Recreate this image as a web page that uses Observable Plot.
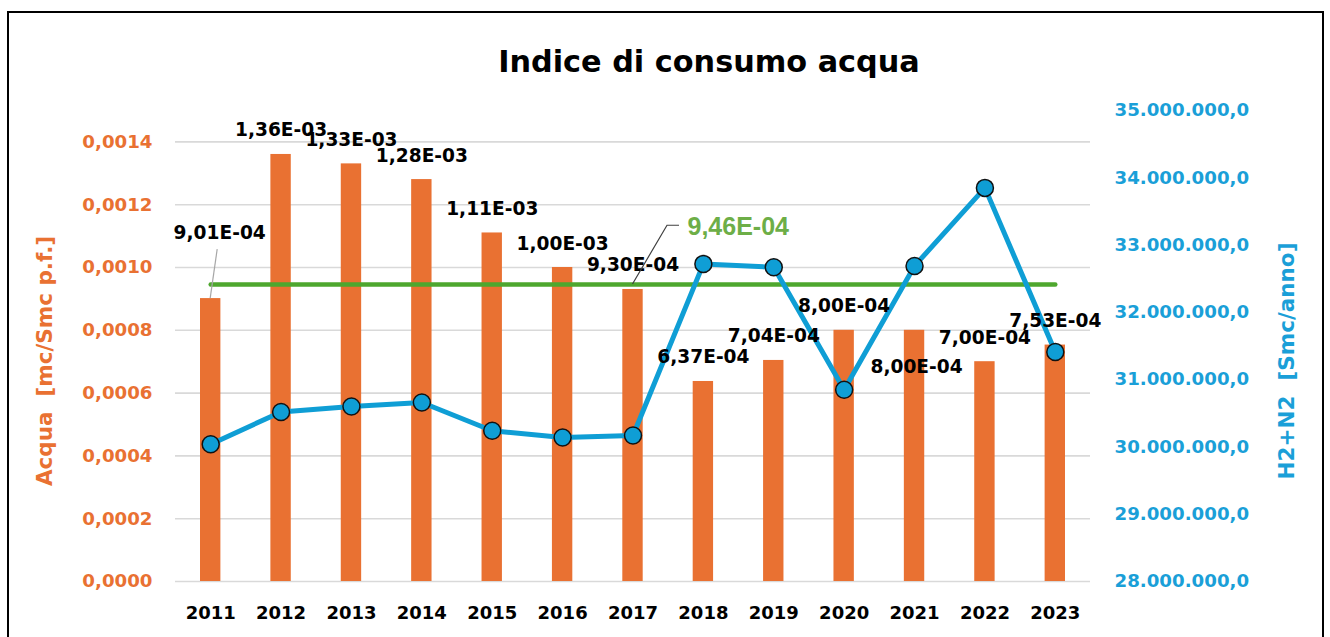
<!DOCTYPE html>
<html>
<head>
<meta charset="utf-8">
<script src="https://cdn.jsdelivr.net/npm/d3@7"></script>
<script src="https://cdn.jsdelivr.net/npm/@observablehq/plot@0.6"></script>
<style>
  html, body { margin: 0; padding: 0; background: #fff; }
  body { width: 1330px; height: 637px; position: relative; overflow: hidden; }
  #chart { position: absolute; left: 0; top: 0; }
  #chart svg text { white-space: pre; }
  #frame { position: absolute; left: 7px; top: 11px; width: 1317px; height: 700px;
           border: 2px solid #000; box-sizing: border-box; pointer-events: none; }
  #title { position: absolute; left: 709px; top: 47px; transform: translateX(-50%);
           font: bold 30.3px/30.3px "DejaVu Sans", sans-serif; white-space: nowrap; color: #000; }
</style>
</head>
<body>
<div id="chart"></div>
<div id="frame"></div>
<div id="title">Indice di consumo acqua</div>
<script>
// ---- data ----
const years = [2011, 2012, 2013, 2014, 2015, 2016, 2017, 2018, 2019, 2020, 2021, 2022, 2023];
const waterIndex = [0.000901, 0.00136, 0.00133, 0.00128, 0.00111, 0.00100, 0.00093,
                    0.000637, 0.000704, 0.00080, 0.00080, 0.00070, 0.000753];
const h2n2 = [30.04e6, 30.52e6, 30.60e6, 30.66e6, 30.24e6, 30.14e6, 30.17e6,
              32.72e6, 32.67e6, 30.85e6, 32.69e6, 33.85e6, 31.41e6];
const avgIndex = 0.000946;
const leftTicks = [0, 0.0002, 0.0004, 0.0006, 0.0008, 0.0010, 0.0012, 0.0014];
const rightTicks = [28e6, 29e6, 30e6, 31e6, 32e6, 33e6, 34e6, 35e6];
const leftTitle = "Acqua  [mc/Smc p.f.]";
const rightTitle = "H2+N2  [Smc/anno]";

// ---- scales / helpers ----
const leftMax = 0.0015;
const rightDomain = [28e6, 35e6];
const toLeft = v => (v - rightDomain[0]) / (rightDomain[1] - rightDomain[0]) * leftMax;
const fromLeft = v => rightDomain[0] + v / leftMax * (rightDomain[1] - rightDomain[0]);

const itLocale = d3.formatLocale({decimal: ",", thousands: ".", grouping: [3], currency: ["", ""]});
const fmtRightNum = itLocale.format(",.1f");
const fmtLeft = d => d.toFixed(4).replace(".", ",");
const fmtRight = d => fmtRightNum(Math.round(fromLeft(d) / 1000) * 1000);
const fmtSci = v => {
  const [m, e] = v.toExponential(2).split("e");
  const ei = +e;
  return m.replace(".", ",") + "E" + (ei < 0 ? "-" : "+") + String(Math.abs(ei)).padStart(2, "0");
};

const rows = years.map((year, i) => ({year, water: waterIndex[i], h2: h2n2[i]}));

// label placement (styling)
const ORANGE = "#E97132", BLUE = "#0F9ED5", BLUE_TXT = "#1A9FD8", GREEN = "#4EA72E", GREEN_TXT = "#6DAE47";
const specialLabels = {2011: {dx: 9, dy: -60}, 2021: {dx: 2, dy: 43}};
const avgLabelYear = 2017;
const leaderSpecs = [
  {year: 2011, value: waterIndex[0], path: [[0, 0], [7, -49]], color: "#a6a6a6"},
  {year: avgLabelYear, value: avgIndex, path: [[0, 0], [34.5, -58.7], [46.5, -58.7]], color: "#404040"}
];

function leaders(index, scales) {
  const {x, y} = scales;
  const bx = x.bandwidth ? x.bandwidth() / 2 : 0;
  const g = d3.create("svg:g").attr("fill", "none");
  for (const L of leaderSpecs) {
    const x0 = x(L.year) + bx, y0 = y(L.value);
    const pts = L.path.map(([dx, dy]) => [x0 + dx, y0 + dy]);
    g.append("path").attr("d", d3.line()(pts)).attr("stroke", L.color).attr("stroke-width", 1.2);
  }
  return g.node();
}

const labelBase = {x: "year", y: "water", text: d => fmtSci(d.water), lineAnchor: "bottom",
                   fontWeight: "bold", fontSize: 18.6, fill: "#000"};

const chart = Plot.plot({
  width: 1330,
  height: 637,
  marginTop: 110,
  marginBottom: 56,
  marginLeft: 175,
  marginRight: 240,
  style: {fontFamily: "'DejaVu Sans', sans-serif", fontSize: "18px", background: "transparent", overflow: "visible"},
  x: {type: "band", domain: years, padding: 0, round: false, label: null},
  y: {domain: [0, leftMax], label: null},
  marks: [
    Plot.gridY({ticks: leftTicks, stroke: "#d9d9d9", strokeOpacity: 1, strokeWidth: 1.6}),
    Plot.barY(rows, {x: "year", y: "water", fill: ORANGE, insetLeft: 25, insetRight: 25}),
    Plot.line([years[0], years[years.length - 1]], {x: d => d, y: () => avgIndex, stroke: GREEN,
      strokeWidth: 4.5, strokeLinecap: "round"}),
    Plot.line(rows, {x: "year", y: d => toLeft(d.h2), stroke: BLUE, strokeWidth: 5, strokeLinejoin: "round"}),
    Plot.dot(rows, {x: "year", y: d => toLeft(d.h2), r: 8.5, fill: BLUE, stroke: "#111", strokeWidth: 1.5}),
    Plot.text(rows.filter(d => !(d.year in specialLabels)), {...labelBase, dy: -18}),
    ...Object.entries(specialLabels).map(([yr, o]) =>
      Plot.text(rows.filter(d => d.year === +yr), {...labelBase, dx: o.dx, dy: o.dy})),
    leaders,
    Plot.text([avgIndex], {x: () => avgLabelYear, y: d => d, text: d => fmtSci(d), textAnchor: "start",
      lineAnchor: "bottom", dx: 54.5, dy: -49.7, fill: GREEN_TXT, fontFamily: "'Liberation Sans', Arial, sans-serif",
      fontWeight: "bold", fontSize: 25}),
    Plot.axisX({tickSize: 0, tickPadding: 25, tickFormat: d => String(d), fontWeight: "bold",
      fontSize: 18, color: "#000", label: null}),
    Plot.axisY({anchor: "left", ticks: leftTicks, tickFormat: fmtLeft, tickSize: 0, tickPadding: 23,
      fontWeight: "bold", fontSize: 18.2, color: ORANGE, label: null}),
    Plot.axisY({anchor: "right", ticks: rightTicks.map(toLeft), tickFormat: fmtRight, tickSize: 0,
      tickPadding: 24, fontWeight: "bold", fontSize: 18.2, color: BLUE_TXT, label: null}),
    Plot.text([leftTitle], {frameAnchor: "left", text: d => d, rotate: -90, textAnchor: "middle",
      lineAnchor: "middle", dx: -130, dy: 15, fill: ORANGE, fontWeight: "bold", fontSize: 21.5}),
    Plot.text([rightTitle], {frameAnchor: "right", text: d => d, rotate: -90, textAnchor: "middle",
      lineAnchor: "middle", dx: 197, dy: 15, fill: BLUE_TXT, fontWeight: "bold", fontSize: 21.5})
  ]
});
document.getElementById("chart").appendChild(chart);
</script>
</body>
</html>
